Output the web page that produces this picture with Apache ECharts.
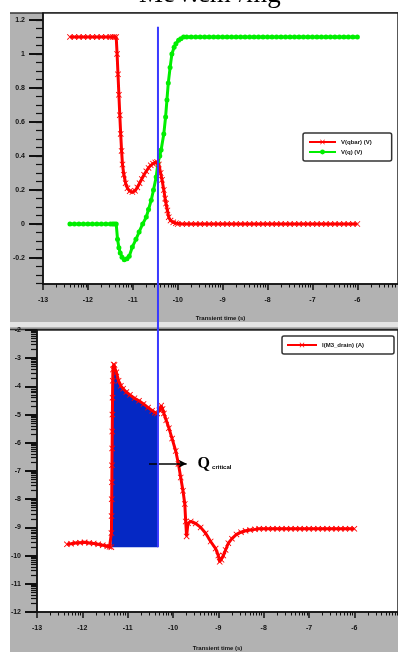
<!DOCTYPE html>
<html>
<head>
<meta charset="utf-8">
<script src="https://cdn.jsdelivr.net/npm/echarts@6/dist/echarts.min.js"></script>
<style>
html, body { margin: 0; padding: 0; background: #fff; }
#main { width: 398px; height: 652px; }
</style>
</head>
<body>
<div id="main"></div>
<script>
// x = log10(transient time / s)
// top panel: node voltages (V)
var vqbarPoints = [
	[-12.4, 1.1], [-12.3, 1.1], [-12.2, 1.1], [-12.1, 1.1], [-12.0, 1.1], [-11.9, 1.1], [-11.8, 1.1],
	[-11.7, 1.1], [-11.6, 1.1], [-11.5, 1.1], [-11.45, 1.1], [-11.41, 1.1], [-11.37, 1.1],
	[-11.35, 1.0], [-11.33, 0.88], [-11.31, 0.76], [-11.29, 0.64], [-11.27, 0.53], [-11.25, 0.43],
	[-11.23, 0.35], [-11.2, 0.29], [-11.16, 0.24], [-11.12, 0.21], [-11.07, 0.193], [-11.01, 0.188],
	[-10.95, 0.195], [-10.9, 0.215], [-10.85, 0.24], [-10.8, 0.265], [-10.75, 0.29], [-10.7, 0.31],
	[-10.65, 0.33], [-10.6, 0.345], [-10.55, 0.355], [-10.5, 0.362], [-10.46, 0.365], [-10.42, 0.35],
	[-10.38, 0.3], [-10.35, 0.26], [-10.31, 0.2], [-10.28, 0.15], [-10.26, 0.12], [-10.23, 0.08],
	[-10.2, 0.04], [-10.16, 0.02], [-10.1, 0.01], [-10.04, 0.005], [-10.0, 0],
	[-9.9, 0], [-9.8, 0], [-9.7, 0], [-9.6, 0], [-9.5, 0], [-9.4, 0], [-9.3, 0], [-9.2, 0], [-9.1, 0],
	[-9.0, 0], [-8.9, 0], [-8.8, 0], [-8.7, 0], [-8.6, 0], [-8.5, 0], [-8.4, 0], [-8.3, 0], [-8.2, 0],
	[-8.1, 0], [-8.0, 0], [-7.9, 0], [-7.8, 0], [-7.7, 0], [-7.6, 0], [-7.5, 0], [-7.4, 0], [-7.3, 0],
	[-7.2, 0], [-7.1, 0], [-7.0, 0], [-6.9, 0], [-6.8, 0], [-6.7, 0], [-6.6, 0], [-6.5, 0], [-6.4, 0],
	[-6.3, 0], [-6.2, 0], [-6.1, 0], [-6.0, 0]
];
var vqPoints = [
	[-12.4, 0], [-12.3, 0], [-12.2, 0], [-12.1, 0], [-12.0, 0], [-11.9, 0], [-11.8, 0], [-11.7, 0],
	[-11.6, 0], [-11.5, 0], [-11.45, 0], [-11.41, 0], [-11.37, 0],
	[-11.34, -0.09], [-11.31, -0.14], [-11.28, -0.17], [-11.24, -0.195], [-11.19, -0.21],
	[-11.13, -0.205], [-11.08, -0.19], [-11.01, -0.135], [-10.93, -0.09], [-10.86, -0.047],
	[-10.78, 0.0], [-10.7, 0.041], [-10.65, 0.085], [-10.59, 0.14], [-10.54, 0.2], [-10.48, 0.276],
	[-10.44, 0.36], [-10.4, 0.4], [-10.37, 0.435], [-10.31, 0.53], [-10.27, 0.63], [-10.24, 0.73],
	[-10.21, 0.83], [-10.17, 0.92], [-10.13, 1.0], [-10.08, 1.04], [-10.04, 1.06], [-9.98, 1.08],
	[-9.93, 1.09], [-9.87, 1.1], [-9.8, 1.1],
	[-9.7, 1.1], [-9.6, 1.1], [-9.5, 1.1], [-9.4, 1.1], [-9.3, 1.1], [-9.2, 1.1], [-9.1, 1.1],
	[-9.0, 1.1], [-8.9, 1.1], [-8.8, 1.1], [-8.7, 1.1], [-8.6, 1.1], [-8.5, 1.1], [-8.4, 1.1],
	[-8.3, 1.1], [-8.2, 1.1], [-8.1, 1.1], [-8.0, 1.1], [-7.9, 1.1], [-7.8, 1.1], [-7.7, 1.1],
	[-7.6, 1.1], [-7.5, 1.1], [-7.4, 1.1], [-7.3, 1.1], [-7.2, 1.1], [-7.1, 1.1], [-7.0, 1.1],
	[-6.9, 1.1], [-6.8, 1.1], [-6.7, 1.1], [-6.6, 1.1], [-6.5, 1.1], [-6.4, 1.1], [-6.3, 1.1],
	[-6.2, 1.1], [-6.1, 1.1], [-6.0, 1.1]
];
// bottom panel: log10 of drain current (A)
var idPoints = [
	[-12.34, -9.6], [-12.25, -9.58], [-12.15, -9.55], [-12.05, -9.54], [-11.95, -9.53], [-11.85, -9.55],
	[-11.75, -9.57], [-11.65, -9.6], [-11.55, -9.63], [-11.45, -9.67], [-11.4, -9.69], [-11.36, -9.7],
	[-11.358, -9.2], [-11.355, -8.6], [-11.352, -8.0], [-11.349, -7.4], [-11.346, -6.8], [-11.343, -6.2],
	[-11.34, -5.6], [-11.337, -5.0], [-11.334, -4.4], [-11.33, -3.8], [-11.325, -3.4], [-11.31, -3.22],
	[-11.29, -3.24], [-11.25, -3.5], [-11.2, -3.8], [-11.15, -3.98], [-11.1, -4.08], [-11.03, -4.2],
	[-10.95, -4.3], [-10.85, -4.42], [-10.75, -4.51], [-10.65, -4.62], [-10.55, -4.75], [-10.46, -4.86],
	[-10.4, -4.93], [-10.35, -4.96], [-10.3, -4.85], [-10.26, -4.68], [-10.23, -4.8], [-10.2, -4.96],
	[-10.15, -5.2], [-10.09, -5.48], [-10.02, -5.85], [-9.94, -6.29], [-9.88, -6.75], [-9.83, -7.23],
	[-9.78, -7.7], [-9.74, -8.17], [-9.72, -8.79], [-9.7, -9.32], [-9.67, -8.85], [-9.61, -8.79],
	[-9.5, -8.86], [-9.39, -9.0], [-9.28, -9.21], [-9.17, -9.5], [-9.06, -9.75], [-9.0, -10.0],
	[-8.97, -10.22], [-8.93, -10.15], [-8.89, -10.0], [-8.84, -9.8], [-8.78, -9.56], [-8.7, -9.4],
	[-8.6, -9.25], [-8.5, -9.17], [-8.4, -9.12], [-8.3, -9.09], [-8.19, -9.07],
	[-8.1, -9.05], [-8.0, -9.05], [-7.9, -9.05], [-7.8, -9.05], [-7.7, -9.05], [-7.6, -9.05],
	[-7.5, -9.05], [-7.4, -9.05], [-7.3, -9.05], [-7.2, -9.05], [-7.1, -9.05], [-7.0, -9.05],
	[-6.9, -9.05], [-6.8, -9.05], [-6.7, -9.05], [-6.6, -9.05], [-6.5, -9.05], [-6.4, -9.05],
	[-6.3, -9.05], [-6.2, -9.05], [-6.1, -9.05], [-6.0, -9.05]
];
// shaded charge window and cursor
var qStart = -11.36, qEnd = -10.33, qEndVal = -4.92, qBase = -9.7;
var cursorTime = -10.44, cursorTop = 1.16;
var arrowFrom = -10.53, arrowTo = -9.7, arrowLevel = -6.74;

var xMajor = [-13, -12, -11, -10, -9, -8, -7, -6, -5];
var vMajor = [-0.2, 0, 0.2, 0.4, 0.6, 0.8, 1, 1.2];
var iMajor = [-12, -11, -10, -9, -8, -7, -6, -5, -4, -3, -2];

// minor ticks: log spaced for exponent axes, 0.05 for volts
var logMinor = function(major) {
	var out = [];
	for (var i = 0; i < major.length; i++) {
		for (var k = 2; k < 10; k++) out.push(major[i] + Math.log10(k));
	}
	return out;
};
var xMinor = logMinor(xMajor);
var iMinor = logMinor(iMajor.slice(0, -1));
var vMinor = [];
for (var v = -0.35; v < 1.21; v += 0.05) vMinor.push(+v.toFixed(2));

var qFill = idPoints.filter(function(p) { return p[0] >= qStart && p[0] <= qEnd; });
qFill.push([qEnd, qEndVal]);

var crossSymbol = 'path://M0,1L1,0L5,4L9,0L10,1L6,5L10,9L9,10L5,6L1,10L0,9L4,5Z';
var ink = '#111';
var tickFont = { fontSize: 7, fontWeight: 'bold', color: ink, fontFamily: 'Liberation Sans' };

function majorX(grid, min, max, gap) {
	return {
		type: 'value', gridIndex: grid, min: min, max: max, position: 'bottom',
		name: 'Transient time (s)', nameLocation: 'middle', nameGap: gap,
		nameTextStyle: { fontSize: 6, fontWeight: 'bold', color: ink, fontFamily: 'Liberation Sans' },
		axisLine: { onZero: false, lineStyle: { color: ink, width: 1.5 } },
		axisTick: { customValues: xMajor, length: 6, lineStyle: { color: ink, width: 1.5 } },
		axisLabel: Object.assign({ customValues: xMajor, margin: 13 }, tickFont),
		splitLine: { show: false }
	};
}
function minorX(grid, min, max) {
	return {
		type: 'value', gridIndex: grid, min: min, max: max, position: 'bottom',
		axisLine: { show: false, onZero: false },
		axisTick: { customValues: xMinor, length: 3.5, lineStyle: { color: ink, width: 1 } },
		axisLabel: { show: false }, splitLine: { show: false }
	};
}
function majorY(grid, min, max, ticks, len, fmt) {
	return {
		type: 'value', gridIndex: grid, min: min, max: max, position: 'left',
		axisLine: { onZero: false, lineStyle: { color: ink, width: 1.5 } },
		axisTick: { customValues: ticks, length: len, lineStyle: { color: ink, width: 2 } },
		axisLabel: Object.assign({ customValues: ticks, margin: len + 4, formatter: fmt }, tickFont),
		splitLine: { show: false }
	};
}
function minorY(grid, min, max, ticks, len) {
	return {
		type: 'value', gridIndex: grid, min: min, max: max, position: 'left',
		axisLine: { show: false, onZero: false },
		axisTick: { customValues: ticks, length: len, lineStyle: { color: ink, width: 1.2 } },
		axisLabel: { show: false }, splitLine: { show: false }
	};
}

var chart = echarts.init(document.getElementById('main'));
var option = {
	animation: false,
	backgroundColor: 'transparent',
	grid: [
		{ left: 43, right: -3, top: 13, height: 271, show: true, backgroundColor: '#fff', borderColor: '#222', borderWidth: 1.5 },
		{ left: 37, right: -3, top: 330, height: 287, show: true, backgroundColor: '#fff', borderColor: '#222', borderWidth: 1.5 }
	],
	xAxis: [
		majorX(0, -13, -5.095, 31),
		minorX(0, -13, -5.095),
		majorX(1, -13, -5.037, 33),
		minorX(1, -13, -5.037)
	],
	yAxis: [
		majorY(0, -0.353, 1.241, vMajor, 14, function(v) { return String(+v.toFixed(1)); }),
		minorY(0, -0.353, 1.241, vMinor, 7),
		majorY(1, -12, -2, iMajor, 12, function(v) { return String(v); }),
		minorY(1, -12, -2, iMinor, 6)
	],
	legend: [{
		left: 303, top: 133, orient: 'vertical',
		data: ['V(qbar) (V)', 'V(q) (V)'],
		itemWidth: 27, itemHeight: 6, itemGap: 4,
		padding: [6, 20, 6, 5],
		borderColor: '#333', borderWidth: 1.5, borderRadius: 2, backgroundColor: '#fff',
		textStyle: { fontSize: 6, fontWeight: 'bold', color: ink, fontFamily: 'Liberation Sans' }
	}, {
		left: 282, top: 336, orient: 'vertical',
		data: ['I(M3_drain) (A)'],
		itemWidth: 30, itemHeight: 6,
		padding: [6, 30, 6, 4],
		borderColor: '#333', borderWidth: 1.5, borderRadius: 2, backgroundColor: '#fff',
		textStyle: { fontSize: 6, fontWeight: 'bold', color: ink, fontFamily: 'Liberation Sans' }
	}],
	series: [{
		name: 'V(qbar) (V)', type: 'line', xAxisIndex: 0, yAxisIndex: 0,
		data: vqbarPoints, symbol: crossSymbol, symbolSize: 6, showAllSymbol: true,
		itemStyle: { color: '#ff0000' }, lineStyle: { color: '#ff0000', width: 3 }, z: 3
	}, {
		name: 'V(q) (V)', type: 'line', xAxisIndex: 0, yAxisIndex: 0,
		data: vqPoints, symbol: 'circle', symbolSize: 5, showAllSymbol: true,
		itemStyle: { color: '#00ee00' }, lineStyle: { color: '#00ee00', width: 3 }, z: 2
	}, {
		name: 'Qcritical', type: 'line', xAxisIndex: 2, yAxisIndex: 2,
		data: qFill, symbol: 'none', lineStyle: { width: 0 },
		areaStyle: { color: '#0528c4', opacity: 1, origin: qBase }, z: 1,
		markLine: {
			silent: true, symbol: ['none', 'arrow'], symbolSize: [6, 8],
			lineStyle: { color: '#000', width: 1.5, type: 'solid' }, label: { show: false },
			data: [[{ coord: [arrowFrom, arrowLevel] }, { coord: [arrowTo, arrowLevel] }]]
		}
	}, {
		name: 'I(M3_drain) (A)', type: 'line', xAxisIndex: 2, yAxisIndex: 2,
		data: idPoints, symbol: crossSymbol, symbolSize: 6, showAllSymbol: true,
		itemStyle: { color: '#ff0000' }, lineStyle: { color: '#ff0000', width: 3 }, z: 3
	}]
};
chart.setOption(option);

// cursor line across both panels, and the panel decoration
var pTop = chart.convertToPixel({ xAxisIndex: 0, yAxisIndex: 0 }, [cursorTime, cursorTop]);
var pBot = chart.convertToPixel({ xAxisIndex: 2, yAxisIndex: 2 }, [qEnd, qBase]);
var pArrow = chart.convertToPixel({ xAxisIndex: 2, yAxisIndex: 2 }, [arrowTo, arrowLevel]);
chart.setOption({
	graphic: [
		{ type: 'rect', z: -100, silent: true, shape: { x: 10, y: 13, width: 388, height: 639 }, style: { fill: '#b2b2b2' } },
		{ type: 'rect', z: -100, silent: true, shape: { x: 10, y: 322, width: 388, height: 5 }, style: { fill: '#e4e4e4' } },
		{ type: 'line', z: -99, silent: true, shape: { x1: 10, y1: 13, x2: 398, y2: 13 }, style: { stroke: '#333', lineWidth: 1.5 } },
		{ type: 'line', z: -99, silent: true, shape: { x1: 10, y1: 329.5, x2: 398, y2: 329.5 }, style: { stroke: '#333', lineWidth: 1.5 } },
		{ type: 'text', silent: true, x: 139, y: 8, style: { text: 'MeV.cm²/mg', font: '27px "Liberation Serif"', fill: '#000', textVerticalAlign: 'bottom' } },
		{ type: 'line', silent: true, z: 50, shape: { x1: pTop[0], y1: pTop[1], x2: pTop[0], y2: pBot[1] }, style: { stroke: '#3a3aff', lineWidth: 2 } },
		{ type: 'text', silent: true, z: 50, x: pArrow[0] + 11, y: pArrow[1], style: {
			text: '{q|Q}{c|critical}', textVerticalAlign: 'middle',
			rich: {
				q: { fontSize: 16, fontWeight: 'bold', fontFamily: 'Liberation Serif', fill: '#000' },
				c: { fontSize: 6, fontWeight: 'bold', fontFamily: 'Liberation Sans', fill: '#000', padding: [7, 0, 0, 2] }
			}
		} }
	]
});
</script>
</body>
</html>
